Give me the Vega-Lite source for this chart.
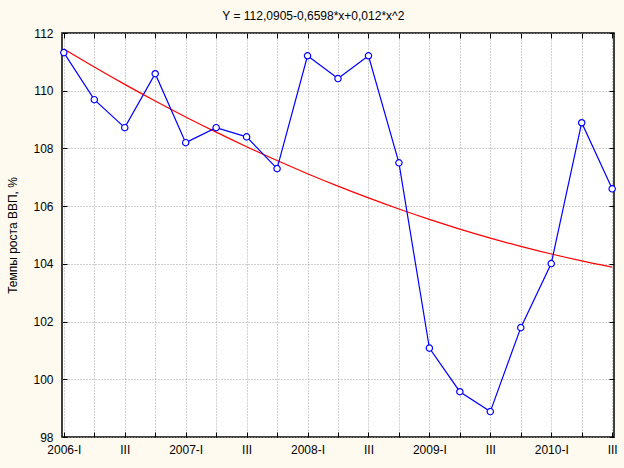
{
  "$schema": "https://vega.github.io/schema/vega-lite/v6.json",
  "width": 552,
  "height": 404,
  "autosize": {"type": "none"},
  "padding": {"left": 62, "top": 33, "right": 10, "bottom": 31},
  "background": "#fffaf0",
  "config": {
    "font": "Liberation Sans",
    "view": {"stroke": "#000000", "strokeWidth": 1.5, "fill": "#ffffff"},
    "axis": {"labelFont": "Liberation Sans", "titleFont": "Liberation Sans", "labelColor": "#000", "titleColor": "#000", "labelFontSize": 12, "titleFontSize": 12, "titleFontWeight": "normal", "domain": false, "tickColor": "#000", "tickSize": -5, "gridColor": "#a0a0a0", "gridDash": [1, 2], "gridWidth": 1, "gridOpacity": 1}
  },
  "title": {"text": "Y = 112,0905-0,6598*x+0,012*x^2", "font": "Liberation Sans", "fontSize": 12, "fontWeight": "normal", "color": "#000", "anchor": "middle", "frame": "bounds", "offset": 4, "dx": 1},
  "data": {
    "values": [
      {"period": "2006-I", "gdp": 111.32, "fit": 111.4427},
      {"period": "2006-II", "gdp": 109.69, "fit": 110.8189},
      {"period": "2006-III", "gdp": 108.72, "fit": 110.2191},
      {"period": "2006-IV", "gdp": 110.59, "fit": 109.6433},
      {"period": "2007-I", "gdp": 108.2, "fit": 109.0915},
      {"period": "2007-II", "gdp": 108.72, "fit": 108.5637},
      {"period": "2007-III", "gdp": 108.4, "fit": 108.0599},
      {"period": "2007-IV", "gdp": 107.3, "fit": 107.5801},
      {"period": "2008-I", "gdp": 111.21, "fit": 107.1243},
      {"period": "2008-II", "gdp": 110.42, "fit": 106.6925},
      {"period": "2008-III", "gdp": 111.21, "fit": 106.2847},
      {"period": "2008-IV", "gdp": 107.5, "fit": 105.9009},
      {"period": "2009-I", "gdp": 101.08, "fit": 105.5411},
      {"period": "2009-II", "gdp": 99.57, "fit": 105.2053},
      {"period": "2009-III", "gdp": 98.88, "fit": 104.8935},
      {"period": "2009-IV", "gdp": 101.79, "fit": 104.6057},
      {"period": "2010-I", "gdp": 104.01, "fit": 104.3419},
      {"period": "2010-II", "gdp": 108.89, "fit": 104.1021},
      {"period": "2010-III", "gdp": 106.6, "fit": 103.8863}
    ]
  },
  "encoding": {
    "x": {"field": "period", "type": "ordinal", "sort": null, "scale": {"type": "point", "padding": 0.06}},
    "y": {"type": "quantitative", "scale": {"domain": [98, 112], "nice": false, "zero": false}}
  },
  "layer": [
    {
      "mark": {"type": "line", "color": "#ff0000", "strokeWidth": 1.2, "interpolate": "monotone"},
      "encoding": {
        "x": {"field": "period", "type": "ordinal", "sort": null,
          "axis": {"title": null, "labelAngle": 0, "labelPadding": 12, "grid": true,
            "labelExpr": "indexof(datum.value, '-III') >= 0 ? 'III' : (indexof(datum.value, '-I') == length(datum.value) - 2 ? datum.value : '')"}},
        "y": {"field": "fit", "type": "quantitative",
          "axis": {"title": "Темпы роста ВВП, %", "values": [98, 100, 102, 104, 106, 108, 110, 112], "grid": true, "labelPadding": 14, "titlePadding": 13}}
      }
    },
    {
      "mark": {"type": "line", "color": "#0000ff", "strokeWidth": 1.2},
      "encoding": {
        "x": {"field": "period", "type": "ordinal", "sort": null, "axis": {"orient": "top", "labels": false, "grid": false, "title": null}},
        "y": {"field": "gdp", "type": "quantitative", "axis": {"orient": "right", "labels": false, "grid": false, "title": null, "values": [98, 100, 102, 104, 106, 108, 110, 112]}}
      }
    },
    {
      "mark": {"type": "point", "shape": "circle", "color": "#0000ff", "filled": false, "fill": "#ffffff", "fillOpacity": 1, "size": 40, "strokeWidth": 1.2, "opacity": 1},
      "encoding": {
        "x": {"field": "period", "type": "ordinal", "sort": null, "axis": null},
        "y": {"field": "gdp", "type": "quantitative", "axis": null}
      }
    }
  ],
  "resolve": {"axis": {"x": "independent", "y": "independent"}}
}
